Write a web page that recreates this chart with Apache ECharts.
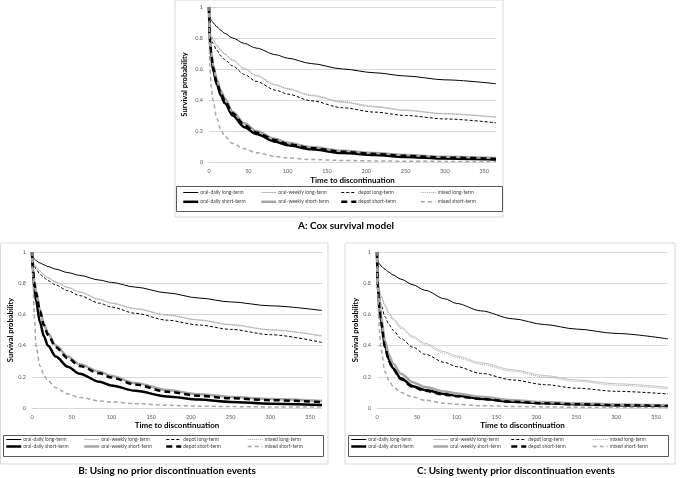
<!DOCTYPE html>
<html>
<head>
<meta charset="utf-8">
<script src="https://cdn.jsdelivr.net/npm/echarts@6/dist/echarts.min.js"></script>
<style>
html,body{margin:0;padding:0;background:#fff;}
#chart{width:685px;height:478px;}
</style>
</head>
<body>
<div id="chart"></div>
<script>
// time points (days)
const times = [0, 1, 3, 5, 10, 15, 20, 30, 45, 60, 85, 100, 130, 170, 210, 250, 300, 365];
const seriesNames = ['oral-daily long-term','oral-weekly long-term','depot long-term','mixed long-term',
                     'oral-daily short-term','oral-weekly short-term','depot short-term','mixed short-term'];
const xTicks = [0, 50, 100, 150, 200, 250, 300, 350];
const yTicks = [0, 0.2, 0.4, 0.6, 0.8, 1];
const panelTitles = ['A: Cox survival model', 'B: Using no prior discontinuation events', 'C: Using twenty prior discontinuation events'];

// Panel A: Cox survival model
const A_odL = [1, 0.93, 0.915, 0.90, 0.872, 0.85, 0.83, 0.80, 0.765, 0.735, 0.692, 0.67, 0.635, 0.60, 0.576, 0.555, 0.53, 0.505];
const A_owL = [1, 0.84, 0.81, 0.79, 0.75, 0.72, 0.695, 0.655, 0.60, 0.555, 0.495, 0.47, 0.428, 0.385, 0.355, 0.332, 0.31, 0.288];
const A_dpL = [1, 0.83, 0.79, 0.765, 0.72, 0.685, 0.66, 0.62, 0.565, 0.52, 0.463, 0.438, 0.395, 0.35, 0.322, 0.30, 0.278, 0.253];
const A_mxL = [1, 0.845, 0.815, 0.795, 0.755, 0.725, 0.70, 0.66, 0.605, 0.56, 0.50, 0.475, 0.433, 0.39, 0.36, 0.336, 0.313, 0.29];
const A_odS = [1, 0.78, 0.68, 0.60, 0.50, 0.43, 0.38, 0.30, 0.225, 0.18, 0.13, 0.108, 0.082, 0.058, 0.045, 0.033, 0.022, 0.015];
const A_owS = [1, 0.80, 0.70, 0.63, 0.53, 0.46, 0.41, 0.325, 0.25, 0.20, 0.148, 0.124, 0.096, 0.072, 0.058, 0.045, 0.034, 0.026];
const A_dpS = [1, 0.79, 0.69, 0.61, 0.51, 0.445, 0.395, 0.315, 0.238, 0.19, 0.14, 0.115, 0.09, 0.066, 0.052, 0.04, 0.028, 0.02];
const A_mxS = [1, 0.62, 0.48, 0.40, 0.28, 0.21, 0.165, 0.12, 0.085, 0.06, 0.035, 0.026, 0.016, 0.01, 0.007, 0.005, 0.004, 0.003];

// Panel B: no prior discontinuation events
const B_odL = [1, 0.97, 0.955, 0.945, 0.93, 0.918, 0.907, 0.89, 0.868, 0.85, 0.82, 0.805, 0.775, 0.738, 0.705, 0.68, 0.655, 0.625];
const B_owL = [1, 0.94, 0.92, 0.905, 0.877, 0.853, 0.833, 0.806, 0.772, 0.742, 0.695, 0.671, 0.635, 0.595, 0.563, 0.533, 0.50, 0.46];
const B_dpL = [1, 0.935, 0.91, 0.89, 0.86, 0.836, 0.816, 0.788, 0.752, 0.72, 0.672, 0.647, 0.607, 0.563, 0.532, 0.504, 0.47, 0.42];
const B_mxL = [1, 0.942, 0.922, 0.907, 0.879, 0.855, 0.836, 0.809, 0.775, 0.745, 0.698, 0.674, 0.638, 0.598, 0.566, 0.536, 0.503, 0.464];
const B_odS = [1, 0.88, 0.76, 0.69, 0.55, 0.46, 0.40, 0.33, 0.265, 0.22, 0.168, 0.145, 0.11, 0.074, 0.054, 0.039, 0.028, 0.02];
const B_owS = [1, 0.90, 0.81, 0.75, 0.63, 0.54, 0.48, 0.40, 0.33, 0.28, 0.233, 0.205, 0.16, 0.115, 0.088, 0.071, 0.058, 0.045];
const B_dpS = [1, 0.90, 0.80, 0.74, 0.62, 0.53, 0.47, 0.39, 0.32, 0.27, 0.222, 0.195, 0.15, 0.104, 0.078, 0.062, 0.05, 0.037];
const B_mxS = [1, 0.85, 0.58, 0.40, 0.27, 0.21, 0.175, 0.13, 0.09, 0.068, 0.045, 0.038, 0.028, 0.017, 0.012, 0.009, 0.007, 0.006];

// Panel C: twenty prior discontinuation events
const C_odL = [1, 0.94, 0.925, 0.91, 0.89, 0.87, 0.853, 0.826, 0.79, 0.755, 0.70, 0.67, 0.623, 0.572, 0.535, 0.506, 0.478, 0.443];
const C_owL = [1, 0.82, 0.76, 0.72, 0.66, 0.61, 0.575, 0.52, 0.46, 0.415, 0.36, 0.333, 0.29, 0.245, 0.208, 0.18, 0.155, 0.132];
const C_dpL = [1, 0.80, 0.72, 0.665, 0.585, 0.535, 0.50, 0.445, 0.39, 0.345, 0.292, 0.265, 0.222, 0.18, 0.15, 0.127, 0.107, 0.09];
const C_mxL = [1, 0.815, 0.755, 0.715, 0.65, 0.60, 0.565, 0.51, 0.45, 0.405, 0.35, 0.323, 0.28, 0.236, 0.199, 0.171, 0.146, 0.122];
const C_odS = [1, 0.78, 0.65, 0.56, 0.40, 0.31, 0.255, 0.19, 0.14, 0.115, 0.09, 0.078, 0.06, 0.04, 0.03, 0.024, 0.018, 0.013];
const C_owS = [1, 0.80, 0.68, 0.59, 0.43, 0.34, 0.285, 0.22, 0.165, 0.135, 0.105, 0.093, 0.072, 0.05, 0.038, 0.03, 0.023, 0.018];
const C_dpS = [1, 0.78, 0.64, 0.55, 0.39, 0.30, 0.25, 0.185, 0.135, 0.11, 0.085, 0.075, 0.058, 0.04, 0.03, 0.024, 0.018, 0.013];
const C_mxS = [1, 0.72, 0.50, 0.38, 0.23, 0.175, 0.14, 0.10, 0.07, 0.05, 0.03, 0.024, 0.015, 0.01, 0.007, 0.005, 0.004, 0.003];

const panelData = [
  [A_odL, A_owL, A_dpL, A_mxL, A_odS, A_owS, A_dpS, A_mxS],
  [B_odL, B_owL, B_dpL, B_mxL, B_odS, B_owS, B_dpS, B_mxS],
  [C_odL, C_owL, C_dpL, C_mxL, C_odS, C_owS, C_dpS, C_mxS]
];

const FONT = 'Lato, "Liberation Sans", sans-serif';
const lineStyles = [
  {color:'#000000', width:1, type:'solid'},
  {color:'#bfbfbf', width:1, type:'solid'},
  {color:'#000000', width:1, type:[3,2]},
  {color:'#a6a6a6', width:1, type:[1,1]},
  {color:'#000000', width:2.5, type:'solid'},
  {color:'#a6a6a6', width:2.5, type:'solid'},
  {color:'#000000', width:2.5, type:[6,4]},
  {color:'#a6a6a6', width:1.5, type:[4,3]}
];

// layout per panel
const panels = [
  {grid:{left:209, top:7, width:287, height:155}, box:[175,0,328,217], legBox:[176,186,326,25],
   legLeft:[182,260,340,420], legTop:190, legGap:4.3, nameGapY:20, nameGapX:14, title:[346,226]},
  {grid:{left:32, top:252, width:290, height:156}, box:[0.5,243,327.5,221], legBox:[3,435,320,21],
   legLeft:[5,83,165,247], legTop:437, legGap:2, nameGapY:15, nameGapX:13, title:[167,471]},
  {grid:{left:377, top:252, width:291, height:156}, box:[345,243,330,221], legBox:[348,435,320,21],
   legLeft:[350,432,510,592], legTop:437, legGap:2, nameGapY:15, nameGapX:13, title:[516,471]}
];

const grid = [], xAxis = [], yAxis = [], series = [], legend = [], graphic = [];
panels.forEach((p, pi) => {
  grid.push(p.grid);
  xAxis.push({
    type:'value', gridIndex:pi, min:0, max:365, interval:50,
    name:'Time to discontinuation', nameLocation:'middle', nameGap:p.nameGapX,
    nameTextStyle:{fontFamily:FONT, fontWeight:'bold', fontSize:8, color:'#000'},
    axisLine:{show:true, lineStyle:{color:'#d9d9d9', width:1}},
    axisTick:{show:false}, splitLine:{show:false},
    axisLabel:{fontFamily:FONT, fontSize:5.5, color:'#595959', margin:6, showMaxLabel:false,
      formatter: v => xTicks.includes(v) ? String(v) : ''}
  });
  yAxis.push({
    type:'value', gridIndex:pi, min:0, max:1, interval:0.2,
    name:'Survival probability', nameLocation:'middle', nameGap:p.nameGapY, nameRotate:90,
    nameTextStyle:{fontFamily:FONT, fontWeight:'bold', fontSize:7.5, color:'#000'},
    axisLine:{show:false}, axisTick:{show:false},
    splitLine:{show:true, lineStyle:{color:'#d9d9d9', width:1}},
    axisLabel:{fontFamily:FONT, fontSize:5.5, color:'#595959', margin:6,
      formatter: v => { const t = yTicks.find(y => Math.abs(y - v) < 1e-9); return t === undefined ? '' : String(t); }}
  });
  panelData[pi].forEach((vals, si) => {
    series.push({
      type:'line', name:seriesNames[si], xAxisIndex:pi, yAxisIndex:pi,
      data: times.map((t, i) => [t, vals[i]]),
      symbol:'none', smooth:0.3, smoothMonotone:'x',
      lineStyle: lineStyles[si], itemStyle:{color: lineStyles[si].color},
      z: si >= 4 ? 3 : 2, silent:true, animation:false
    });
  });
  for (let c = 0; c < 4; c++) {
    legend.push({
      orient:'vertical', left:p.legLeft[c], top:p.legTop, padding:0,
      itemWidth:15, itemHeight:6, itemGap:p.legGap, selectedMode:false,
      itemStyle:{color:'rgba(0,0,0,0)', borderColor:'rgba(0,0,0,0)', borderWidth:0, opacity:0},
      textStyle:{fontFamily:FONT, fontSize:5, color:'#404040', padding:[0,0,0,-3]},
      data:[c, c + 4].map(k => ({
        name: seriesNames[k],
        lineStyle:{color:lineStyles[k].color, width:lineStyles[k].width, type:lineStyles[k].type},
        itemStyle:{color:'rgba(0,0,0,0)', borderColor:'rgba(0,0,0,0)', borderWidth:0, opacity:0}
      }))
    });
  }
  graphic.push({type:'rect', silent:true, z:-1, shape:{x:p.box[0], y:p.box[1], width:p.box[2], height:p.box[3]},
    style:{fill:'none', stroke:'#d9d9d9', lineWidth:1}});
  graphic.push({type:'rect', silent:true, z:-1, shape:{x:p.legBox[0]+0.5, y:p.legBox[1]+0.5, width:p.legBox[2], height:p.legBox[3]},
    style:{fill:'none', stroke:'#595959', lineWidth:1}});
  graphic.push({type:'text', silent:true, x:p.title[0], y:p.title[1],
    style:{text:panelTitles[pi], fontFamily:FONT, fontWeight:'bold', fontSize:10, fill:'#000',
      textAlign:'center', textVerticalAlign:'middle'}});
});

const chart = echarts.init(document.getElementById('chart'), null, {renderer:'canvas'});
chart.setOption({animation:false, backgroundColor:'#ffffff', grid, xAxis, yAxis, series, legend, graphic});
</script>
</body>
</html>
